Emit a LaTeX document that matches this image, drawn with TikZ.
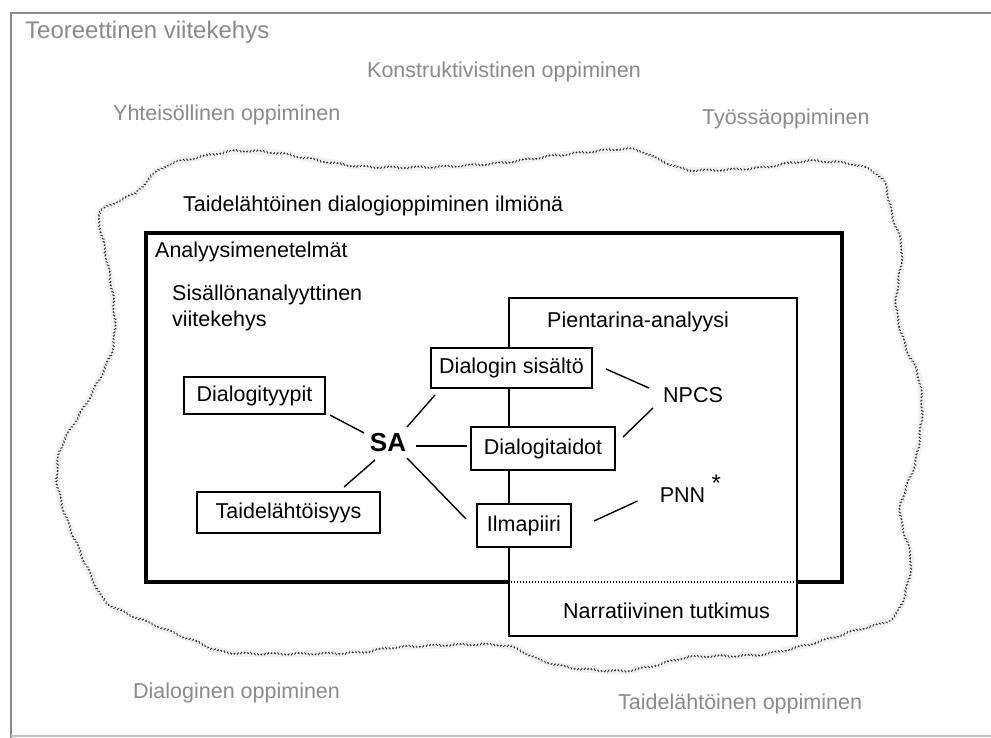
\documentclass[tikz,border=0pt]{standalone}
\usepackage{fontspec}
\setmainfont{Liberation Sans}
\usetikzlibrary{calc,decorations.pathmorphing}

\definecolor{framegray}{HTML}{8C8C8C}
\definecolor{labelgray}{HTML}{8A8A8A}
\definecolor{cloudink}{HTML}{2E2E2E}

\begin{document}
\begin{tikzpicture}[x=1pt,y=-1pt,
  every node/.style={inner sep=0pt, font=\fontsize{21.5}{25}\selectfont},
  frameline/.style={draw=framegray, line width=1.8pt},
  theory/.style={anchor=base west, text=labelgray},
  plain/.style={anchor=base west, text=black},
  boxnode/.style={draw, line width=1.5pt, fill=white, text height=15.5pt, text depth=4.5pt},
  link/.style={line width=1.4pt},
  thickframe/.style={line width=3.2pt, line join=miter},
  thinframe/.style={line width=1.5pt},
  halo/.style={draw=black!5, line width=7pt, line join=round},
  cloudedge/.style={draw=cloudink, line width=0.9pt, dash pattern=on 2.6pt off 3.4pt,
    decorate, decoration={zigzag, segment length=3pt, amplitude=1.1pt}}
]
\useasboundingbox (0,0) rectangle (991,738);
\fill[white] (0,0) rectangle (991,738);

% outer frame of the theoretical framework
\draw[frameline] (991,13) -- (11,13) -- (11,738);
\draw[draw=black!25, line width=1.2pt] (11,736) -- (991,736);

% theory labels
\node[theory, font=\fontsize{24}{28}\selectfont] (teo) at (25,39) {Teoreettinen viitekehys};
\node[theory] (konstr) at (367,78) {Konstruktivistinen oppiminen};
\node[theory] (yht) at (113,121) {Yhteisöllinen oppiminen};
\node[theory] (tyo) at (702,125) {Työssäoppiminen};
\node[theory] (dialog) at (133,698) {Dialoginen oppiminen};
\node[theory] (taide) at (618,709) {Taidelähtöinen oppiminen};

% the phenomenon: irregular dotted cloud
\def\cloudpts{(100,212) (137,192) (150,177) (170,164) (200,157) (235,151) (277,153)
  (333,163) (370,167) (433,167) (500,163) (560,155) (630,149) (660,160) (690,170)
  (757,168) (807,161) (857,165) (883,180) (892,215) (902,250) (896,305) (905,345)
  (918,375) (922,410) (916,460) (900,510) (911,560) (903,600) (890,620) (857,630)
  (807,645) (757,655) (690,657) (657,665) (623,671) (573,668) (540,660) (500,645)
  (400,647) (350,653) (233,653) (200,643) (167,630) (110,605) (93,580) (67,520)
  (57,480) (62,445) (90,397) (113,347) (113,297) (103,240)}
\draw[halo] plot[smooth cycle, tension=0.5] coordinates {\cloudpts};
\draw[cloudedge] plot[smooth cycle, tension=0.5] coordinates {\cloudpts};

\node[plain] (ilmio) at (183,212) {Taidelähtöinen dialogioppiminen ilmiönä};

% analysis methods frame (bottom edge continues dotted inside the narrative box)
\draw[thickframe] (509,582) -- (146,582) -- (146,233) -- (842,233) -- (842,582) -- (797,582);
\node[plain] (anal) at (155,258) {Analyysimenetelmät};
\node[plain] (sis1) at (172,300) {Sisällönanalyyttinen};
\node[plain] (sis2) at (172,326) {viitekehys};

% small story analysis / narrative research box
\draw[thinframe] (509,298) rectangle (797,636);
\draw[line width=2pt, dash pattern=on 1pt off 2pt] (511,582) -- (796,582);
\node[plain] (pien) at (547,327) {Pientarina-analyysi};
\node[plain] (narr) at (563,618) {Narratiivinen tutkimus};

% category boxes
\node[boxnode, minimum width=141pt, minimum height=37pt] (dt) at (254.5,395.5) {Dialogityypit};
\node[boxnode, minimum width=161pt, minimum height=40pt] (ds) at (511.5,368) {Dialogin sisältö};
\node[boxnode, minimum width=144pt, minimum height=43pt] (dta) at (543,448.5) {Dialogitaidot};
\node[boxnode, minimum width=183pt, minimum height=41pt] (tl) at (288.5,512.5) {Taidelähtöisyys};
\node[boxnode, minimum width=94pt, minimum height=43pt] (il) at (524,525.5) {Ilmapiiri};

% centre and story analysis labels
\node[font=\fontsize{26}{30}\selectfont\bfseries] (sa) at (388,443) {SA};
\node (npcs) at (693,395) {NPCS};
\node (pnn) at (682.5,495) {PNN};
\node[anchor=north west, font=\fontsize{24}{28}\selectfont] (pnnstar) at ($(pnn.north east)+(6,-13)$) {*};

% connectors
\draw[link] ($(dt)+(75.5,19.5)$) -- ($(sa)+(-24,-10)$);
\draw[link] ($(sa)+(19,-16)$) -- ($(ds)+(-76.5,27)$);
\draw[link] ($(sa)+(28,3)$) -- ($(dta)+(-76,-2.5)$);
\draw[link] ($(sa)+(-13,17)$) -- ($(tl)+(55.5,-25.5)$);
\draw[link] ($(sa)+(19,15)$) -- ($(il)+(-58,-6.5)$);
\draw[link] ($(ds)+(94.5,1)$) -- ($(npcs)+(-44,-7)$);
\draw[link] ($(dta)+(80,-11.5)$) -- ($(npcs)+(-40,13)$);
\draw[link] ($(il)+(70,-4.5)$) -- ($(pnn)+(-45,6)$);
\end{tikzpicture}
\end{document}
